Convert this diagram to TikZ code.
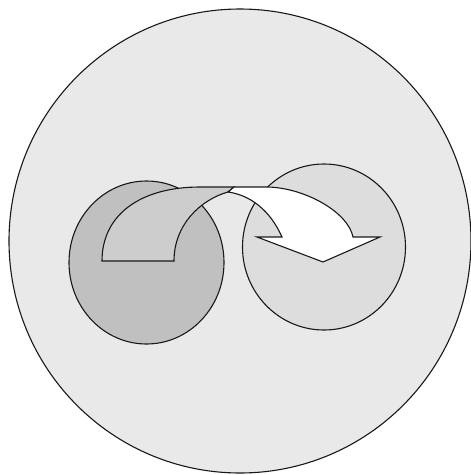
\documentclass[tikz,border=0pt]{standalone}
\usetikzlibrary{shapes.geometric}
\definecolor{disc}{RGB}{233,233,233}
\definecolor{stone}{RGB}{192,192,192}
\definecolor{mist}{RGB}{221,221,221}
\definecolor{fold}{RGB}{205,205,205}
\definecolor{edge}{RGB}{25,25,25}
\tikzset{
  blob/.style={ellipse,draw=edge,fill=#1,line width=1.1pt,inner sep=0pt},
  blob/.default=mist,
  ribbon/.style={draw=edge,fill=#1,line width=1.1pt,line join=miter},
  ribbon/.default=white,
}
\begin{document}
\begin{tikzpicture}[x=1pt,y=-1pt]
  \useasboundingbox (0,0) rectangle (471,475);
  \node[blob=disc,minimum width=462pt,minimum height=464pt] (world) at (240,241) {};
  \node[blob=stone,minimum width=155pt,minimum height=163pt] (src) at (146.5,262.5) {};
  \node[blob=mist,minimum width=163pt,minimum height=166pt] (dst) at (324,247) {};
  % back face of the arrow
  \draw[ribbon=fold] (102,261) -- (174,261) .. controls (174,225) and (200,200) .. (228,192)
    -- (234,187) -- (200,187) .. controls (140,187) and (102,215) .. (102,261) -- cycle;
  % front face with the head
  \draw[ribbon] (228,192) -- (234,187) -- (268,187) .. controls (305,188) and (348,212) .. (353,237)
    -- (380,237) -- (323,262) -- (257,237) -- (282,237)
    .. controls (270,210) and (250,195) .. (228,192) -- cycle;
\end{tikzpicture}
\end{document}
